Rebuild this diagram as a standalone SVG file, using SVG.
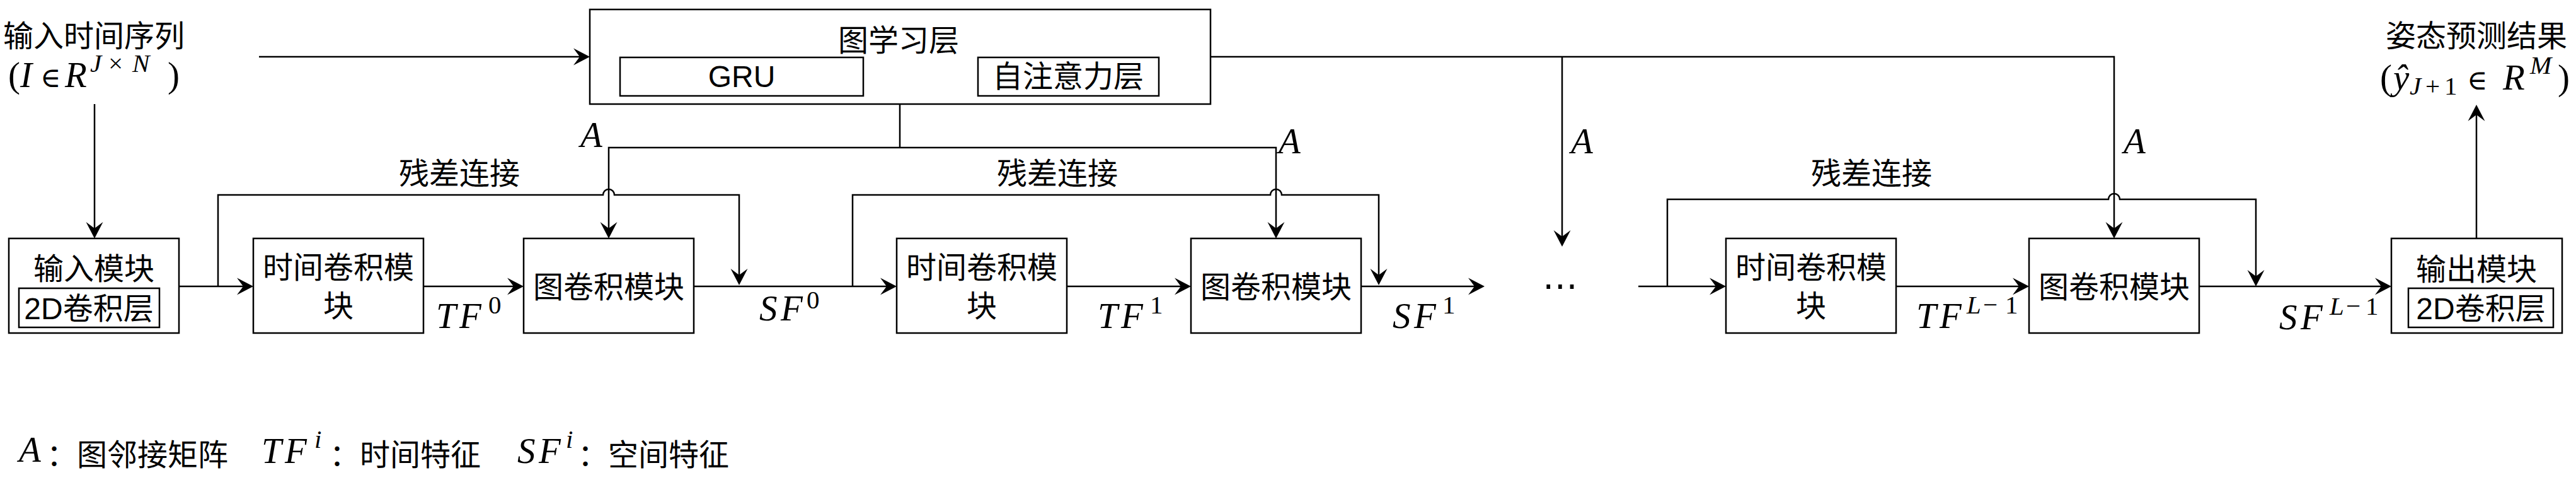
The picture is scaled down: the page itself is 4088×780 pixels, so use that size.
<svg xmlns="http://www.w3.org/2000/svg" width="4088" height="780" viewBox="0 0 4088 780">
<style>
.box{fill:#fff;stroke:#000;stroke-width:2.5}
.ln{fill:none;stroke:#000;stroke-width:2.5}
.arr{marker-end:url(#ah)}
.t{font-family:"Liberation Sans","Noto Sans CJK SC",sans-serif;font-size:48px;text-anchor:middle;dominant-baseline:central;fill:#000}
.c{font-family:"Noto Sans CJK SC",sans-serif;font-size:48px;dominant-baseline:central;fill:#000}
.m{font-family:"Liberation Serif","DejaVu Serif",serif;font-style:italic;font-size:57px;fill:#000}
.u{font-style:normal}
.s{font-size:41px}
.e{font-family:"DejaVu Serif",serif;font-style:normal;font-size:44px}
</style>
<defs>
<marker id="ah" markerUnits="userSpaceOnUse" markerWidth="28" markerHeight="28" viewBox="0 0 28 28" refX="20" refY="14" orient="auto">
<path d="M0,0.5 L26,14 L0,27.5 L10,14 Z" fill="#000"/>
</marker>
</defs>

<g id="connectors">
<path class="ln arr" d="M150,165 V372"/>
<path class="ln arr" d="M411,90 H930"/>
<path class="ln arr" d="M284,454 H396"/>
<path class="ln arr" d="M346,454 V309 H957 A9,9 0 0 1 975,309 H1173 V446"/>
<path class="ln arr" d="M672,454 H825"/>
<path class="ln arr" d="M1101,454 H1417"/>
<path class="ln arr" d="M1353,454 V309 H2016 A9,9 0 0 1 2034,309 H2188 V446"/>
<path class="ln arr" d="M1693,454 H1884"/>
<path class="ln arr" d="M2160,454 H2350"/>
<path class="ln arr" d="M2600,454 H2733"/>
<path class="ln arr" d="M2646,454 V316 H3346 A9,9 0 0 1 3364,316 H3580 V448"/>
<path class="ln arr" d="M3009,454 H3214"/>
<path class="ln arr" d="M3490,454 H3789"/>
<path class="ln arr" d="M3930,378 V172"/>
<path class="ln arr" d="M1921,90 H3355 V372"/>
<path class="ln arr" d="M2479,90 V385"/>
<path class="ln" d="M1428,165 V234"/>
<path class="ln arr" d="M1428,234 H966 V372"/>
<path class="ln arr" d="M1428,234 H2025 V372"/>
<path class="ln arr" d="M1370,121 H1546"/>
</g>

<g id="input-text">
<text class="t" x="149" y="57">输入时间序列</text>
<text class="m" y="138"><tspan class="u" x="13">(</tspan><tspan x="32">I</tspan><tspan class="e" x="64">∈</tspan><tspan x="103">R</tspan><tspan class="s" x="143" y="114">J</tspan><tspan class="s u" x="172" y="114">×</tspan><tspan class="s" x="210" y="114">N</tspan><tspan class="u" x="266" y="138">)</tspan></text>
</g>

<g id="input-module">
<rect class="box" x="14" y="378" width="270" height="150"/>
<text class="t" x="149" y="426">输入模块</text>
<rect class="box" x="30" y="457" width="223" height="62"/>
<text class="t" x="141" y="489">2D卷积层</text>
</g>

<g id="graph-learning">
<rect class="box" x="936" y="15" width="985" height="150"/>
<text class="t" x="1426" y="64">图学习层</text>
<g id="gru">
<rect class="box" x="984" y="91" width="386" height="61"/>
<text class="t" x="1177" y="121">GRU</text>
</g>
<g id="attention">
<rect class="box" x="1552" y="91" width="287" height="61"/>
<text class="t" x="1695" y="121">自注意力层</text>
</g>
</g>

<g id="tcn1">
<rect class="box" x="402" y="378" width="270" height="150"/>
<text class="t" x="537" y="424">时间卷积模</text>
<text class="t" x="537" y="485">块</text>
</g>
<g id="gcn1">
<rect class="box" x="831" y="378" width="270" height="150"/>
<text class="t" x="966" y="455">图卷积模块</text>
</g>
<g id="tcn2">
<rect class="box" x="1423" y="378" width="270" height="150"/>
<text class="t" x="1558" y="424">时间卷积模</text>
<text class="t" x="1558" y="485">块</text>
</g>
<g id="gcn2">
<rect class="box" x="1890" y="378" width="270" height="150"/>
<text class="t" x="2025" y="455">图卷积模块</text>
</g>
<g id="tcn3">
<rect class="box" x="2739" y="378" width="270" height="150"/>
<text class="t" x="2874" y="424">时间卷积模</text>
<text class="t" x="2874" y="485">块</text>
</g>
<g id="gcn3">
<rect class="box" x="3220" y="378" width="270" height="150"/>
<text class="t" x="3355" y="455">图卷积模块</text>
</g>
<g id="output-module">
<rect class="box" x="3795" y="378" width="271" height="150"/>
<text class="t" x="3930" y="427">输出模块</text>
<rect class="box" x="3822" y="457" width="230" height="62"/>
<text class="t" x="3937" y="489">2D卷积层</text>
</g>

<g id="output-text">
<text class="t" x="3930" y="57">姿态预测结果</text>
<text class="m" y="142"><tspan class="u" x="3777">(</tspan><tspan x="3798">ŷ</tspan><tspan class="s" x="3824" y="150">J</tspan><tspan class="s u" x="3849" y="150">+</tspan><tspan class="s u" x="3879" y="150">1</tspan><tspan class="e" x="3915" y="142">∈</tspan><tspan x="3972">R</tspan><tspan class="s" x="4015" y="117">M</tspan><tspan class="u" x="4059" y="142">)</tspan></text>
</g>

<g id="labels">
<text class="t" x="729" y="275">残差连接</text>
<text class="t" x="1678" y="275">残差连接</text>
<text class="t" x="2970" y="275">残差连接</text>
<text class="m" x="921" y="233">A</text>
<text class="m" x="2029" y="243">A</text>
<text class="m" x="2493" y="243">A</text>
<text class="m" x="3370" y="243">A</text>
<text class="m" y="520"><tspan x="692">T</tspan><tspan x="729">F</tspan><tspan class="s u" x="775" y="497">0</tspan></text>
<text class="m" y="508"><tspan x="1205">S</tspan><tspan x="1239">F</tspan><tspan class="s u" x="1280" y="489">0</tspan></text>
<text class="m" y="520"><tspan x="1742">T</tspan><tspan x="1779">F</tspan><tspan class="s u" x="1825" y="497">1</tspan></text>
<text class="m" y="520"><tspan x="2210">S</tspan><tspan x="2244">F</tspan><tspan class="s u" x="2289" y="497">1</tspan></text>
<text class="m" y="520"><tspan x="3041">T</tspan><tspan x="3078">F</tspan><tspan class="s" x="3121" y="497">L</tspan><tspan class="s u" x="3147" y="497">−</tspan><tspan class="s u" x="3182" y="497">1</tspan></text>
<text class="m" y="522"><tspan x="3617">S</tspan><tspan x="3651">F</tspan><tspan class="s" x="3697" y="499">L</tspan><tspan class="s u" x="3723" y="499">−</tspan><tspan class="s u" x="3754" y="499">1</tspan></text>
<text x="2476" y="472" style="font-family:'DejaVu Sans',sans-serif;font-size:56px;text-anchor:middle">⋯</text>
</g>

<g id="legend">
<text class="m" x="30" y="732">A</text>
<text class="c" x="74" y="717">：图邻接矩阵</text>
<text class="m" y="734"><tspan x="415">T</tspan><tspan x="452">F</tspan><tspan class="s" x="499" y="710">i</tspan></text>
<text class="c" x="523" y="717">：时间特征</text>
<text class="m" y="734"><tspan x="821">S</tspan><tspan x="855">F</tspan><tspan class="s" x="898" y="710">i</tspan></text>
<text class="c" x="917" y="717">：空间特征</text>
</g>
</svg>
